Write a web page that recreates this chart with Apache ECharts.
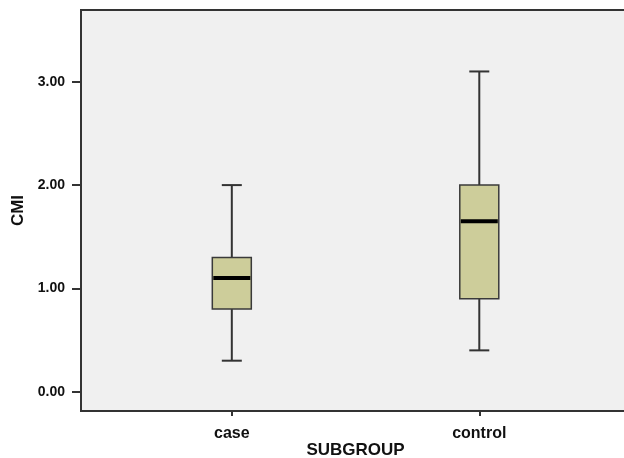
<!DOCTYPE html>
<html>
<head>
<meta charset="utf-8">
<script src="https://cdn.jsdelivr.net/npm/echarts@6/dist/echarts.min.js"></script>
<style>html,body{margin:0;padding:0;background:#fff;overflow:hidden;}#c{width:634px;height:458px;}</style>
</head>
<body>
<div id="c"></div>
<script>
const categories = ['case', 'control'];
const catPos = [1, 2];
const minVals = [0.30, 0.40];
const q1Vals = [0.80, 0.90];
const medVals = [1.10, 1.65];
const q3Vals = [1.30, 2.00];
const maxVals = [2.00, 3.10];
const yTicks = [0, 1, 2, 3];

const data = categories.map((c, i) => [catPos[i], minVals[i], q1Vals[i], medVals[i], q3Vals[i], maxVals[i]]);

const BOX_W = 39, CAP_W = 20;
function renderItem(params, api) {
  const x = api.value(0);
  const pMin = api.coord([x, api.value(1)]);
  const pQ1 = api.coord([x, api.value(2)]);
  const pMed = api.coord([x, api.value(3)]);
  const pQ3 = api.coord([x, api.value(4)]);
  const pMax = api.coord([x, api.value(5)]);
  const cx = pMin[0];
  const lineStyle = { stroke: '#333', lineWidth: 2 };
  return {
    type: 'group',
    children: [
      { type: 'line', shape: { x1: cx, y1: pMax[1], x2: cx, y2: pQ3[1] }, style: lineStyle },
      { type: 'line', shape: { x1: cx, y1: pQ1[1], x2: cx, y2: pMin[1] }, style: lineStyle },
      { type: 'line', shape: { x1: cx - CAP_W / 2, y1: pMax[1], x2: cx + CAP_W / 2, y2: pMax[1] }, style: lineStyle },
      { type: 'line', shape: { x1: cx - CAP_W / 2, y1: pMin[1], x2: cx + CAP_W / 2, y2: pMin[1] }, style: lineStyle },
      { type: 'rect', shape: { x: cx - BOX_W / 2, y: pQ3[1], width: BOX_W, height: pQ1[1] - pQ3[1] },
        style: { fill: '#cdcd9a', stroke: '#3a3a3a', lineWidth: 1.5 } },
      { type: 'line', shape: { x1: cx - BOX_W / 2 + 1, y1: pMed[1], x2: cx + BOX_W / 2 - 1, y2: pMed[1] },
        style: { stroke: '#000', lineWidth: 4 } }
    ]
  };
}

const chart = echarts.init(document.getElementById('c'), null, { renderer: 'canvas' });
const fam = 'Liberation Sans, Arial, sans-serif';
chart.setOption({
  animation: false,
  backgroundColor: '#ffffff',
  grid: {
    left: 81, top: 10, right: 4, bottom: 47,
    outerBoundsMode: 'none', containLabel: false,
    show: true, backgroundColor: '#f0f0f0', borderColor: '#333', borderWidth: 2
  },
  xAxis: {
    type: 'value', min: 0.3906, max: 2.609,
    name: 'SUBGROUP', nameLocation: 'middle', nameGap: 31, nameMoveOverlap: false,
    nameTextStyle: { color: '#111', fontWeight: 'bold', fontSize: 17, fontFamily: fam },
    axisLine: { show: true, onZero: false, lineStyle: { color: '#333', width: 2 } },
    axisTick: { show: true, length: 5, customValues: catPos, lineStyle: { color: '#333', width: 2 } },
    axisLabel: { color: '#111', fontWeight: 'bold', fontSize: 16, fontFamily: fam, margin: 15, customValues: catPos,
      formatter: v => { const i = catPos.indexOf(v); return i >= 0 ? categories[i] : ''; } },
    splitLine: { show: false }
  },
  yAxis: {
    type: 'value', min: -0.187, max: 3.695,
    name: 'CMI', nameLocation: 'middle', nameGap: 54, nameRotate: 90, nameMoveOverlap: false,
    nameTextStyle: { color: '#111', fontWeight: 'bold', fontSize: 17, fontFamily: fam },
    axisLine: { show: true, onZero: false, lineStyle: { color: '#333', width: 2 } },
    axisTick: { show: true, length: 9, customValues: yTicks, lineStyle: { color: '#333', width: 2 } },
    axisLabel: { color: '#111', fontWeight: 'bold', fontSize: 14, fontFamily: fam, margin: 16, customValues: yTicks,
      formatter: v => v.toFixed(2) },
    splitLine: { show: false }
  },
  series: [{
    type: 'custom',
    renderItem: renderItem,
    encode: { x: 0, y: [1, 2, 3, 4, 5] },
    data: data
  }]
});
</script>
</body>
</html>
